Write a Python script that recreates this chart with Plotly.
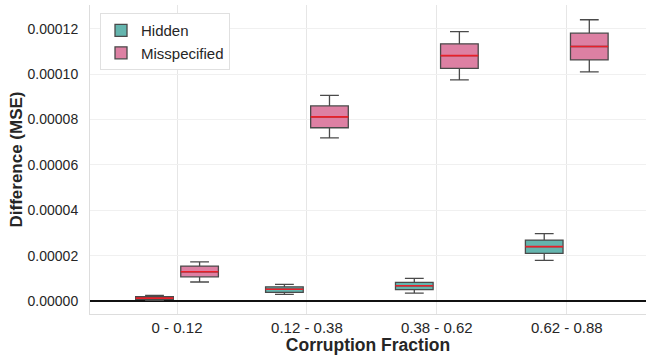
import plotly.graph_objects as go

categories = ["0 - 0.12", "0.12 - 0.38", "0.38 - 0.62", "0.62 - 0.88"]

hidden_lower = [0.3e-6, 2.95e-6, 3.5e-6, 1.79e-5]
hidden_q1 = [0.75e-6, 3.8e-6, 5.0e-6, 2.10e-5]
hidden_median = [1.3e-6, 5.2e-6, 6.75e-6, 2.40e-5]
hidden_q3 = [1.9e-6, 6.3e-6, 8.2e-6, 2.69e-5]
hidden_upper = [2.5e-6, 7.4e-6, 1.0e-5, 2.97e-5]

mis_lower = [0.84e-5, 7.19e-5, 9.75e-5, 1.010e-4]
mis_q1 = [1.07e-5, 7.64e-5, 1.026e-4, 1.063e-4]
mis_median = [1.29e-5, 8.12e-5, 1.082e-4, 1.122e-4]
mis_q3 = [1.544e-5, 8.60e-5, 1.134e-4, 1.181e-4]
mis_upper = [1.73e-5, 9.07e-5, 1.188e-4, 1.240e-4]

series = [
    ("Hidden", "#64b5ae", hidden_lower, hidden_q1, hidden_median, hidden_q3, hidden_upper),
    ("Misspecified", "#dd80a3", mis_lower, mis_q1, mis_median, mis_q3, mis_upper),
]

fig = go.Figure()
for name, color, lo, q1, med, q3, hi in series:
    fig.add_trace(go.Box(
        name=name, x=categories, lowerfence=lo, q1=q1, median=med, q3=q3, upperfence=hi,
        fillcolor=color, line=dict(color="#4a4a4a", width=1.3),
        offsetgroup=name, alignmentgroup="a", whiskerwidth=0.5,
        boxpoints=False, hoverinfo="skip",
    ))
for name, color, lo, q1, med, q3, hi in series:
    fig.add_trace(go.Box(
        name=name + " median", x=categories, lowerfence=med, q1=med, median=med, q3=med, upperfence=med,
        fillcolor="rgba(0,0,0,0)", line=dict(color="#e8202a", width=1.6),
        offsetgroup=name, alignmentgroup="a", whiskerwidth=0,
        boxpoints=False, showlegend=False, hoverinfo="skip",
    ))

font_family = "Liberation Sans, Arial, sans-serif"
fig.update_layout(
    width=647, height=355,
    margin=dict(l=90, r=1, t=5, b=41),
    paper_bgcolor="white", plot_bgcolor="white",
    boxmode="group", boxgap=0.306, boxgroupgap=0.165,
    font=dict(family=font_family, color="#262626"),
    legend=dict(x=0.018, y=0.974, xanchor="left", yanchor="top",
                bgcolor="white", bordercolor="#e0e0e0", borderwidth=1,
                font=dict(size=15, color="#262626")),
    showlegend=True,
)
fig.update_xaxes(
    type="category", range=[-0.67, 3.61],
    showgrid=True, gridcolor="#e6e6e6", gridwidth=1,
    showline=True, linecolor="#dddddd", linewidth=1, mirror=False,
    ticks="", tickfont=dict(size=15, color="#262626"),
    title=dict(text="<b>Corruption Fraction</b>", font=dict(size=17.5, color="#262626"), standoff=3),
)
fig.update_yaxes(
    range=[-5.7e-6, 1.305e-4],
    tickvals=[0, 2e-5, 4e-5, 6e-5, 8e-5, 1e-4, 1.2e-4],
    ticktext=["0.00000", "0.00002", "0.00004", "0.00006", "0.00008", "0.00010", "0.00012"],
    showgrid=True, gridcolor="#f0f0f0", gridwidth=1,
    zeroline=True, zerolinecolor="#111111", zerolinewidth=1.5,
    showline=True, linecolor="#dddddd", linewidth=1, mirror=False,
    ticks="outside", ticklen=8, tickcolor="rgba(0,0,0,0)",
    tickfont=dict(size=14, color="#262626"),
    title=dict(text="<b>Difference (MSE)</b>", font=dict(size=17, color="#262626"), standoff=0),
)

fig.write_html("out.html")
